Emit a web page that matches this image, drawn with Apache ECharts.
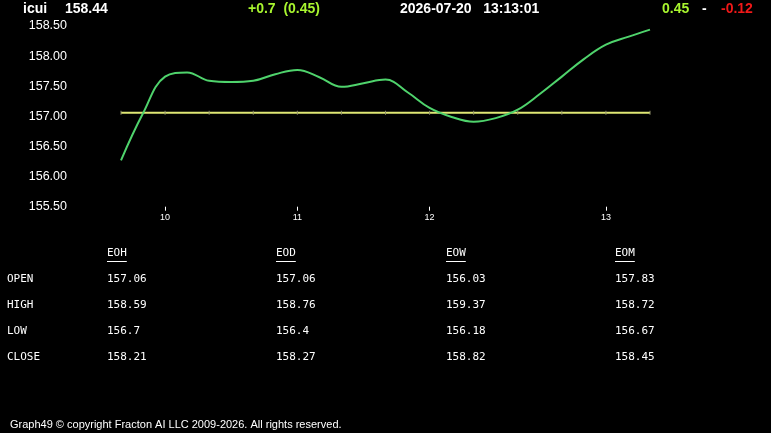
<!DOCTYPE html>
<html>
<head>
<meta charset="utf-8">
<script src="https://cdn.jsdelivr.net/npm/echarts@6/dist/echarts.min.js"></script>
<style>
  html, body { margin: 0; padding: 0; background: #000; }
  #chart-wrapper { width: 771px; height: 433px; }
</style>
</head>
<body>
<div id="chart-wrapper"></div>
<script>
// intraday samples (time labels) and prices
const times = ['09:50', '09:55', '10:00', '10:10', '10:20', '10:30', '10:40', '10:50', '11:00', '11:10', '11:20', '11:30', '11:40',
  '11:50', '12:00', '12:07', '12:15', '12:22', '12:30', '12:37', '12:45', '12:52', '13:00', '13:06', '13:13']
const prices = [156.27, 157.05, 157.66, 157.73, 157.59, 157.57, 157.59, 157.70, 157.77, 157.65, 157.49, 157.55, 157.61,
  157.40, 157.14, 156.99, 156.91, 156.97, 157.11, 157.37, 157.66, 157.95, 158.19, 158.32, 158.44]
const openPrice = 157.06

// header
const symbolName = 'icui'
const lastPrice = '158.44'
const change = '+0.7  (0.45)'
const stamp = '2026-07-20   13:13:01'
const rangeHigh = '0.45'
const rangeLow = '-0.12'

// OHLC table
const tableCols = ['EOH', 'EOD', 'EOW', 'EOM']
const tableRows = ['OPEN', 'HIGH', 'LOW', 'CLOSE']
const openVals = ['157.06', '157.06', '156.03', '157.83']
const highVals = ['158.59', '158.76', '159.37', '158.72']
const lowVals = ['156.7', '156.4', '156.18', '156.67']
const closeVals = ['158.21', '158.27', '158.82', '158.45']

const footer = 'Graph49 \u00a9 copyright Fracton AI LLC 2009-2026. All rights reserved.'

const sans = 'Liberation Sans, Arial, sans-serif'
const mono = 'DejaVu Sans Mono, monospace'

const headText = (text, x, fill) => ({
  type: 'text',
  x: x,
  y: 9,
  style: { text: text, fill: fill, font: 'bold 14px ' + sans, verticalAlign: 'middle' }
})

const buildTable = () => {
  const els = []
  const colX = [107, 276, 446, 615]
  const rowY = [279, 305, 331, 357]
  const values = [openVals, highVals, lowVals, closeVals]
  tableCols.forEach((c, i) => {
    els.push({ type: 'text', x: colX[i], y: 253, style: { text: c, fill: '#fff', font: '11px ' + mono, verticalAlign: 'middle' } })
    els.push({ type: 'line', shape: { x1: colX[i], y1: 261.5, x2: colX[i] + c.length * 6.6, y2: 261.5 }, style: { stroke: '#fff', lineWidth: 1 } })
  })
  tableRows.forEach((r, j) => {
    els.push({ type: 'text', x: 7, y: rowY[j], style: { text: r, fill: '#fff', font: '11px ' + mono, verticalAlign: 'middle' } })
    values[j].forEach((v, i) => {
      els.push({ type: 'text', x: colX[i], y: rowY[j], style: { text: v, fill: '#fff', font: '11px ' + mono, verticalAlign: 'middle' } })
    })
  })
  return els
}

const isHour = (v) => v.slice(3) === '00'

const chartDom = document.getElementById('chart-wrapper')
const chart = echarts.init(chartDom, null, { renderer: 'canvas' })

const option = {
  backgroundColor: '#000',
  animation: false,
  grid: { left: 121, right: 121, top: 26, bottom: 226.3 },
  xAxis: {
    type: 'category',
    data: times,
    boundaryGap: false,
    axisLine: { show: false },
    axisTick: {
      show: true,
      length: 4,
      interval: (i, v) => isHour(v),
      lineStyle: { color: '#fff', width: 1 }
    },
    axisLabel: {
      interval: (i, v) => isHour(v),
      formatter: (v) => String(parseInt(v.slice(0, 2), 10)),
      color: '#fff',
      fontSize: 9,
      fontFamily: sans,
      margin: 6
    },
    splitLine: { show: false }
  },
  yAxis: {
    type: 'value',
    min: 155.5,
    max: 158.5,
    interval: 0.5,
    axisLine: { show: false },
    axisTick: { show: false },
    splitLine: { show: false },
    axisLabel: {
      color: '#fff',
      fontSize: 12.5,
      fontFamily: sans,
      margin: 54,
      formatter: (v) => v.toFixed(2)
    }
  },
  series: [
    {
      // open level reference line, faint marks every other sample
      type: 'line',
      data: times.map(() => openPrice),
      symbol: (v, p) => (p.dataIndex % 2 === 0 ? 'rect' : 'none'),
      symbolSize: [1, 4],
      showSymbol: true,
      itemStyle: { color: '#8f8f6a' },
      lineStyle: { color: '#dfe774', width: 2 },
      z: 2
    },
    {
      type: 'line',
      data: prices,
      smooth: 0.4,
      symbol: 'none',
      lineStyle: { color: '#4fd36c', width: 2 },
      z: 3
    }
  ],
  graphic: [
    headText(symbolName, 23, '#fff'),
    headText(lastPrice, 65, '#fff'),
    headText(change, 248, '#a8f52f'),
    headText(stamp, 400, '#fff'),
    headText(rangeHigh, 662, '#a8f52f'),
    headText('-', 702, '#fff'),
    headText(rangeLow, 721, '#f01818'),
    ...buildTable(),
    {
      type: 'text',
      x: 10,
      y: 425,
      style: { text: footer, fill: '#fff', font: '11px ' + sans, verticalAlign: 'middle' }
    }
  ]
}

chart.setOption(option)
</script>
</body>
</html>
